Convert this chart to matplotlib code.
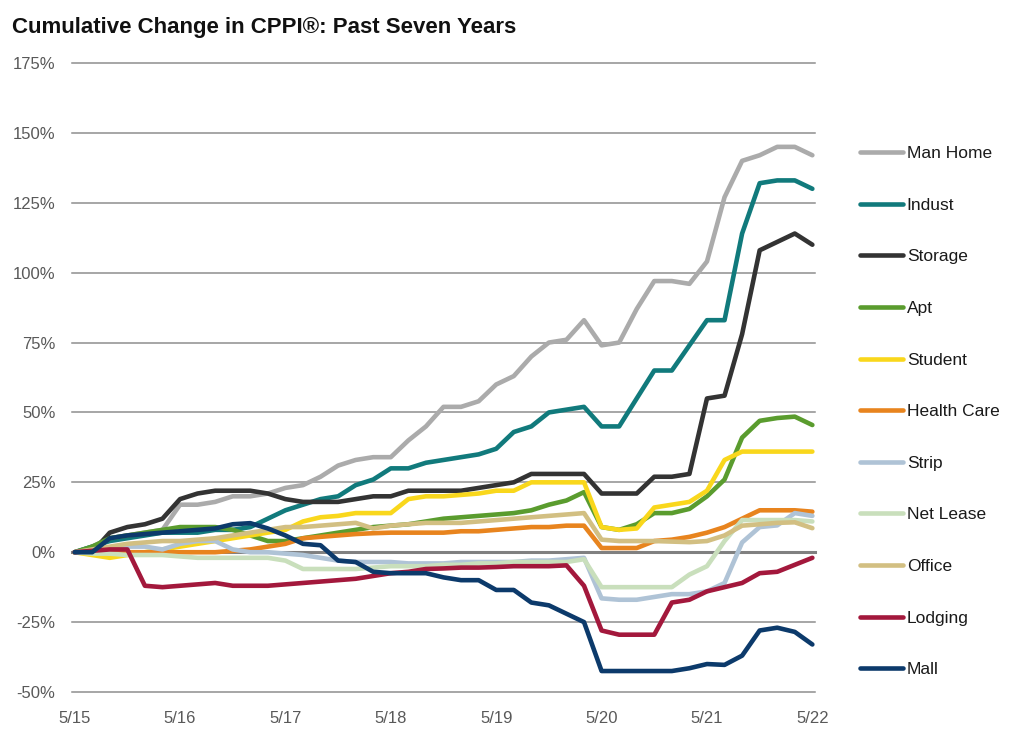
import matplotlib
matplotlib.use('Agg')
import matplotlib.pyplot as plt

plt.rcParams['font.family'] = ['Liberation Sans', 'DejaVu Sans']

# months since 5/15, every second month
months = list(range(0, 85, 2))
year_ticks = [0, 12, 24, 36, 48, 60, 72, 84]
year_labels = ['5/15', '5/16', '5/17', '5/18', '5/19', '5/20', '5/21', '5/22']
pct_ticks = [-50, -25, 0, 25, 50, 75, 100, 125, 150, 175]

man_home = [0, 2, 5, 6, 7, 8, 17, 17, 18, 20, 20, 21, 23, 24, 27, 31, 33, 34,
            34, 40, 45, 52, 52, 54, 60, 63, 70, 75, 76, 83, 74, 75, 87, 97, 97, 96,
            104, 127, 140, 142, 145, 145, 142]
indust = [0, 2, 4, 5, 6, 7, 7, 7, 8, 8, 9, 12, 15, 17, 19, 20, 24, 26,
          30, 30, 32, 33, 34, 35, 37, 43, 45, 50, 51, 52, 45, 45, 55, 65, 65, 74,
          83, 83, 114, 132, 133, 133, 130]
storage = [0, 0, 7, 9, 10, 12, 19, 21, 22, 22, 22, 21, 19, 18, 18, 18, 19, 20,
           20, 22, 22, 22, 22, 23, 24, 25, 28, 28, 28, 28, 21, 21, 21, 27, 27, 28,
           55, 56, 78, 108, 111, 114, 110]
apt = [0, 2, 5, 6, 7, 8, 9, 9, 9, 8, 6, 4, 4, 5, 6, 7, 8, 9,
       9.5, 10, 11, 12, 12.5, 13, 13.5, 14, 15, 17, 18.5, 21.5, 9, 8, 10, 14, 14, 15.5,
       20, 26, 41, 47, 48, 48.5, 45.5]
student = [0, -1, -2, -1, 0, 1, 2, 3, 4, 5, 6, 7, 8, 11, 12.5, 13, 14, 14,
           14, 19, 20, 20, 20.5, 21, 22, 22, 25, 25, 25, 25, 9, 8, 8.5, 16, 17, 18,
           22, 33, 36, 36, 36, 36, 36]
health_care = [0, 0, 0, 0, 0, 0, 0, 0, 0, 0.5, 1, 2, 3, 5, 5.5, 6, 6.5, 6.8,
               7, 7, 7, 7, 7.5, 7.5, 8, 8.5, 9, 9, 9.5, 9.5, 1.5, 1.5, 1.5, 4, 4.5, 5.5,
               7, 9, 12, 15, 15, 15, 14.5]
strip = [0, 0, 1, 2, 2, 1, 3, 4, 4, 1, 0, 0, -0.5, -1, -2, -3, -3.5, -3.5,
         -3.5, -4, -4, -4, -3.5, -3.5, -3.5, -3.5, -3, -3, -2.5, -2, -16.5, -17, -17, -16, -15, -15,
         -14, -11, 3.5, 9, 9.6, 14, 13]
net_lease = [0, -0.5, -0.5, -1, -1, -1, -1.5, -2, -2, -2, -2, -2, -3, -6, -6, -6, -6, -5.5,
             -5, -5, -5, -4.5, -4.5, -4, -4, -3.5, -3.5, -3.5, -3.5, -2.5, -12.5, -12.5, -12.5, -12.5, -12.5, -8,
             -5, 4, 11.5, 11.5, 11.5, 11.5, 11]
office = [0, 1, 2, 3, 3.5, 4, 4, 4.5, 5, 6, 7, 8, 9, 9, 9.5, 10, 10.5, 8.5,
          9.5, 10, 10.5, 10.5, 10.5, 11, 11.5, 12, 12.5, 13, 13.5, 14, 4.5, 4, 4, 4, 3.8, 3.6,
          4, 6, 9.5, 10, 10.5, 10.7, 8.6]
lodging = [0, 0.5, 1, 1, -12, -12.5, -12, -11.5, -11, -12, -12, -12, -11.5, -11, -10.5, -10, -9.5, -8.5,
           -7.5, -7, -6, -5.8, -5.5, -5.5, -5.3, -5, -5, -5, -4.7, -12, -28, -29.5, -29.5, -29.5, -18, -17,
           -14, -12.5, -11, -7.5, -7, -4.5, -2]
mall = [0, 0, 5, 6, 6.5, 7, 7.5, 8, 8.5, 10, 10.4, 8.5, 6, 3, 2.5, -3, -3.5, -7,
        -7.5, -7.5, -7.5, -9, -10, -10, -13.5, -13.5, -18, -19, -22, -25, -42.5, -42.5, -42.5, -42.5, -42.5, -41.5,
        -40, -40.3, -37, -28, -27, -28.5, -33]

names = ['Man Home', 'Indust', 'Storage', 'Apt', 'Student', 'Health Care',
         'Strip', 'Net Lease', 'Office', 'Lodging', 'Mall']
series = [man_home, indust, storage, apt, student, health_care,
          strip, net_lease, office, lodging, mall]
colors = ['#ababab', '#117a7c', '#333333', '#5a9c2e', '#f9d71c', '#e8841e',
          '#afc3d6', '#c9dfbc', '#d2bf82', '#a3183c', '#0c3a6b']

fig = plt.figure(figsize=(10.24, 7.5), dpi=100)
ax = fig.add_axes([72 / 1024, 1 - 692 / 750, 743 / 1024, 629 / 750])

for v in pct_ticks:
    if v == 0:
        ax.axhline(v, color='#808080', lw=2.2, zorder=1, clip_on=False)
    else:
        ax.axhline(v, color='#8e8e8e', lw=1.1, zorder=1, clip_on=False)

for i, (name, vals, col) in enumerate(zip(names, series, colors)):
    ax.plot(months, vals, color=col, lw=3.3, label=name, zorder=2 + i,
            solid_capstyle='round', solid_joinstyle='round')

ax.set_xlim(-0.3, 84.3)
ax.set_ylim(-50, 175)
for s in ax.spines.values():
    s.set_visible(False)
ax.set_xticks(year_ticks)
ax.set_xticklabels(year_labels)
ax.set_yticks(pct_ticks)
ax.set_yticklabels([f'{v}%' for v in pct_ticks])
ax.tick_params(axis='both', length=0, labelsize=12, colors='#595959')
ax.tick_params(axis='y', pad=12)
ax.tick_params(axis='x', pad=14)

fig.text(12 / 1024, 1 - 28 / 750, 'Cumulative Change in CPPI®: Past Seven Years',
         fontsize=16, fontweight='bold', va='center', ha='left', color='#111111')

leg = ax.legend(loc='upper left', bbox_to_anchor=(860 / 1024, 1 - 146 / 750),
                bbox_transform=fig.transFigure, frameon=False, fontsize=12.5,
                handlelength=2.45, handletextpad=0.25, labelspacing=2.1,
                borderpad=0, borderaxespad=0)
for t in leg.get_texts():
    t.set_color('#1a1a1a')

fig.savefig('out.png', dpi=100)
